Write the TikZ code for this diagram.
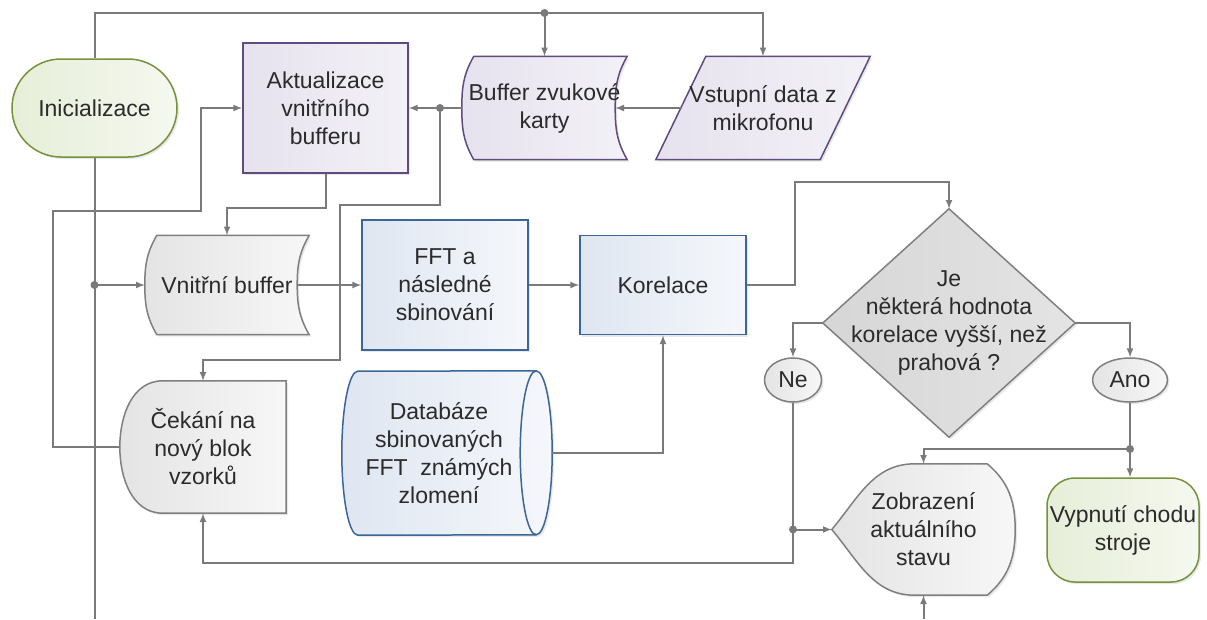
\documentclass[tikz,border=0pt]{standalone}
\usepackage{fontspec}
\setmainfont{Liberation Sans}
\usetikzlibrary{shapes.geometric,backgrounds,shadows}
\definecolor{linka}{HTML}{7A7A7A}
\definecolor{textova}{HTML}{2B2B2B}
\definecolor{fialova}{HTML}{5F4B7D}
\definecolor{fialovaA}{HTML}{E6E2EE}
\definecolor{fialovaB}{HTML}{F3F1F7}
\definecolor{modra}{HTML}{3B6699}
\definecolor{modraA}{HTML}{DFE6F1}
\definecolor{modraB}{HTML}{F5F7FB}
\definecolor{seda}{HTML}{7F7F7F}
\definecolor{sedaA}{HTML}{E4E4E4}
\definecolor{sedaB}{HTML}{F7F7F7}
\definecolor{kosoA}{HTML}{D6D6D6}
\definecolor{kosoB}{HTML}{E4E4E4}
\definecolor{zelena}{HTML}{76923C}
\definecolor{zelenaA}{HTML}{E6EED8}
\definecolor{zelenaB}{HTML}{F5F8EF}

\begin{document}
\begin{tikzpicture}[x=1pt,y=1pt]
	\tikzstyle{cara}=[draw=linka,line width=2pt]
	\tikzstyle{sipka}=[->,>=latex,draw=linka,line width=2pt]
	\tikzstyle{tecka}=[circle,fill=linka,inner sep=0pt,minimum size=8pt]
	\tikzstyle{popis}=[align=center,inner sep=0pt,text=textova,font=\fontsize{23}{28}\selectfont]
	\tikzstyle{stin}=[drop shadow={shadow xshift=2pt,shadow yshift=-2pt,opacity=0.18}]
	\tikzstyle{fialovy}=[draw=fialova,line width=1.5pt,left color=fialovaA,right color=fialovaB,stin]
	\tikzstyle{modry}=[draw=modra,line width=1.5pt,left color=modraA,right color=modraB,stin]
	\tikzstyle{sedy}=[draw=seda,line width=1.5pt,left color=sedaA,right color=sedaB,stin]
	\tikzstyle{zeleny}=[draw=zelena,line width=1.5pt,left color=zelenaA,right color=zelenaB,stin]
	\def\HorniLinie{-13}\def\DolniOkraj{-619}
	\useasboundingbox (0,0) rectangle (1207,\DolniOkraj);
	%
	\node[popis,zeleny,rounded corners=49pt,minimum width=165pt,minimum height=98pt] (init) at (94.5,-108) {Inicializace};
	\node[popis,fialovy,minimum width=165pt,minimum height=130pt] (aktual) at (325.5,-108) {Aktualizace\\vnitřního\\bufferu};
	\node[popis,minimum width=165pt,minimum height=103pt] (zvuk) at (544.5,-108) {Buffer zvukové\\karty};
	\node[popis,minimum width=164pt,minimum height=103pt] (vstup) at (763,-108) {Vstupní data z\\mikrofonu};
	\node[popis,minimum width=164pt,minimum height=99pt] (vnitr) at (227,-285) {Vnitřní buffer};
	\node[popis,modry,minimum width=166pt,minimum height=130pt] (fft) at (445,-285) {FFT a\\následné\\sbinování};
	\node[popis,modry,minimum width=166pt,minimum height=99pt] (korel) at (663,-285) {Korelace};
	\node[popis,minimum width=166pt,minimum height=132pt] (cekani) at (203,-447) {Čekání na\\nový blok\\vzorků};
	\node[popis,minimum width=194pt,minimum height=164pt] (db) at (439,-453) {Databáze\\sbinovaných\\FFT\ \ známých\\zlomení};
	\node[popis,minimum width=252pt,minimum height=228pt] (rozh) at (949,-323) {Je\\některá hodnota\\korelace vyšší, než\\prahová ?};
	\node[popis,sedy,ellipse,minimum width=57pt,minimum height=44pt] (ne) at (793,-380) {Ne};
	\node[popis,sedy,ellipse,minimum width=75pt,minimum height=44pt] (ano) at (1130,-380) {Ano};
	\node[popis,minimum width=183pt,minimum height=131pt] (zobr) at (923.5,-529.5) {Zobrazení\\aktuálního\\stavu};
	\node[popis,zeleny,rounded corners=28pt,minimum width=152pt,minimum height=104pt] (vyp) at (1123,-530) {Vypnutí chodu\\stroje};
	%
	\begin{scope}[on background layer]
		\path[fialovy] ([xshift=12pt]zvuk.north west) -- (zvuk.north east) to[out=240,in=90] ([xshift=-12pt]zvuk.east) to[out=270,in=120] (zvuk.south east) -- ([xshift=12pt]zvuk.south west) to[out=120,in=270] (zvuk.west) to[out=90,in=240] ([xshift=12pt]zvuk.north west) -- cycle;
		\path[fialovy] ([xshift=25pt]vstup.north west) -- ([xshift=25pt]vstup.north east) -- ([xshift=-25pt]vstup.south east) -- ([xshift=-25pt]vstup.south west) -- cycle;
		\path[sedy] ([xshift=12pt]vnitr.north west) -- (vnitr.north east) to[out=240,in=90] ([xshift=-12pt]vnitr.east) to[out=270,in=120] (vnitr.south east) -- ([xshift=12pt]vnitr.south west) to[out=120,in=270] (vnitr.west) to[out=90,in=240] ([xshift=12pt]vnitr.north west) -- cycle;
		\path[sedy] ([xshift=43pt]cekani.north west) -- (cekani.north east) -- (cekani.south east) -- ([xshift=43pt]cekani.south west) to[out=180,in=270] (cekani.west) to[out=90,in=180] ([xshift=43pt]cekani.north west) -- cycle;
		\path[modry] (db.north east) arc[start angle=90,end angle=-90,x radius=16pt,y radius=82pt] -- ([xshift=16pt]db.south west) arc[start angle=270,end angle=90,x radius=16pt,y radius=82pt] -- cycle;
		\draw[draw=modra,line width=1.5pt] (db.north east) arc[start angle=90,end angle=270,x radius=16pt,y radius=82pt];
		\path[sedy,left color=kosoA,right color=kosoB] (rozh.north) -- (rozh.east) -- (rozh.south) -- (rozh.west) -- cycle;
		\path[sedy] (zobr.west) to[out=50,in=180] ([xshift=83pt]zobr.north west) -- ([xshift=-28pt]zobr.north east) to[out=-40,in=90] (zobr.east) to[out=-90,in=40] ([xshift=-28pt]zobr.south east) -- ([xshift=83pt]zobr.south west) to[out=180,in=-50] (zobr.west) -- cycle;
	\end{scope}
	%
	\coordinate (horni) at (544.5,\HorniLinie);
	\coordinate (levy) at (init.south |- vnitr.west);
	\coordinate (dole) at (init.south |- 0,\DolniOkraj);
	\coordinate (zvukuzel) at (440,-108);
	\coordinate (anouzel) at (ano.south |- 0,-449);
	\coordinate (neuzel) at (ne.south |- zobr.west);
	\coordinate (zdola) at (zobr.south |- 0,\DolniOkraj);
	%
	\draw[sipka] (init.north) |- (horni) -| (vstup.north);
	\draw[sipka] (horni) -- (zvuk.north);
	\draw[cara] (init.south) -- (dole);
	\draw[sipka] (levy) -- (vnitr.west);
	\draw[sipka] (vstup.west) -- ([xshift=-12pt]zvuk.east);
	\draw[sipka] (zvuk.west) -- (aktual.east);
	\draw[sipka] (zvukuzel) |- (340,-205) |- ([yshift=21pt]cekani.north) -- (cekani.north);
	\draw[sipka] (aktual.south) -- ++(0,-34) -| (vnitr.north);
	\draw[sipka] (cekani.west) -| (53,-211) -| (201,-108) -- (aktual.west);
	\draw[sipka] ([xshift=-12pt]vnitr.east) -- (fft.west);
	\draw[sipka] (fft.east) -- (korel.west);
	\draw[sipka] (korel.east) -| (795,-182) -| (rozh.north);
	\draw[sipka] ([xshift=16pt]db.east) -| (korel.south);
	\draw[sipka] (rozh.west) -| (ne.north);
	\draw[sipka] (rozh.east) -| (ano.north);
	\draw[sipka] (ano.south) -- (ano.south |- vyp.north);
	\draw[sipka] (anouzel) -| (zobr.north);
	\draw[sipka] (neuzel) -- (zobr.west);
	\draw[sipka] (ne.south) |- ([yshift=-50pt]cekani.south) -- (cekani.south);
	\draw[sipka] (zdola) -- (zobr.south);
	\foreach \u in {horni,levy,zvukuzel,anouzel,neuzel} \node[tecka] at (\u) {};
\end{tikzpicture}
\end{document}
